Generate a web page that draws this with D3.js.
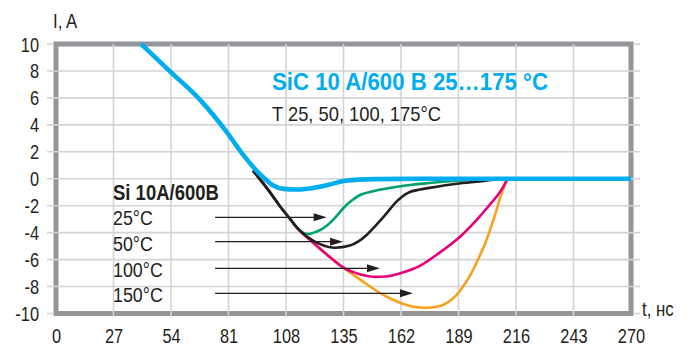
<!DOCTYPE html>
<html><head><meta charset="utf-8">
<script src="https://cdn.jsdelivr.net/npm/d3@7"></script>
<style>
html,body{margin:0;padding:0;background:#fff;}
svg{display:block;}
text{font-family:"Liberation Sans",Arial,sans-serif;fill:#231f20;}
</style></head>
<body><svg id="c" width="697" height="346"></svg>
<script>
// ---- data ----
const xTicks = [0,27,54,81,108,135,162,189,216,243,270];
const yTicks = [10,8,6,4,2,0,-2,-4,-6,-8,-10];

const sicT = [40,54,68,80,88,93,98,102,107,113,120,128,136,150,170,270];
const sicI = [10,7.9,5.8,3.5,1.75,0.8,0,-0.5,-0.75,-0.8,-0.7,-0.44,-0.15,-0.03,0,0];

const si25T = [92.5,100,105,110,113,116,118.5,122,127,131,135,139,143,149,161,175,188,200,210,270];
const si25I = [0.6,-0.9,-2.0,-3.0,-3.6,-4.0,-4.1,-3.95,-3.5,-2.9,-2.17,-1.6,-1.19,-0.92,-0.57,-0.32,-0.15,-0.05,0,0];

const si50T = [92.5,100,105,110,113,118,124,131,138,142,146,150,154,160,165,171,176,188,199,211,270];
const si50I = [0.6,-0.9,-2.0,-3.0,-3.6,-4.3,-4.85,-5.12,-4.96,-4.65,-4.15,-3.5,-2.8,-1.68,-1.06,-0.8,-0.66,-0.37,-0.2,0,0];

const si100T = [92.5,100,105,110,114,119,127,135,143,150,155,162,171,180,190,199,203,207,210,212,270];
const si100I = [0.6,-0.9,-2.0,-3.0,-3.8,-4.5,-5.6,-6.6,-7.1,-7.28,-7.25,-7.0,-6.45,-5.5,-4.27,-2.8,-2.05,-1.3,-0.6,0,0];

const si150T = [92.5,100,105,110,114,119,127,134,143,152,161.5,168,174,178,182,186,190,194,198,202,206,209,212,270];
const si150I = [0.6,-0.9,-2.0,-3.0,-3.8,-4.5,-5.6,-6.5,-7.5,-8.47,-9.2,-9.5,-9.58,-9.52,-9.35,-8.95,-8.25,-7.3,-6.05,-4.6,-2.75,-1.2,0,0];

const legendLabels = ["25°C","50°C","100°C","150°C"];
const arrowStartT = [74.7,74.7,74.7,74.7];
const arrowEndT = [127.1,134.8,152.1,167.6];
const arrowI = [-2.86,-4.67,-6.65,-8.5];

const titleText = "SiC 10 A/600 B 25…175 °C";
const subtitleText = "T 25, 50, 100, 175°C";
const legendTitle = "Si 10A/600B";
const yLabel = "I, A";
const xLabel = "t, нс";

// ---- drawing ----
const SX = 0.84;
const svg = d3.select("#c");
const x = d3.scaleLinear().domain([0,270]).range([56,631]);
const y = d3.scaleLinear().domain([-10,10]).range([313.5,44]);

function txt(px,py,str,size,bold,sx){
  return svg.append("text").attr("transform",`translate(${px},${py}) scale(${sx||SX},1)`)
    .style("font-size",size+"px").style("font-weight",bold?"bold":"normal").text(str);
}

// frame
svg.append("rect").attr("x",x(0)).attr("y",y(10)).attr("width",x(270)-x(0)).attr("height",y(-10)-y(10))
  .attr("fill","none").attr("stroke","#939598").attr("stroke-width",5);

// gridlines
const gc="#d4d4d4";
svg.append("g").selectAll("line").data(yTicks.filter(d=>d!==10&&d!==-10)).join("line")
  .attr("x1",47).attr("x2",640).attr("y1",d=>y(d)).attr("y2",d=>y(d))
  .attr("stroke",gc).attr("stroke-width",1.6);
svg.append("g").selectAll("line").data(xTicks.filter(d=>d!==0&&d!==270)).join("line")
  .attr("x1",d=>x(d)).attr("x2",d=>x(d)).attr("y1",y(10)).attr("y2",317)
  .attr("stroke",gc).attr("stroke-width",1.6);
svg.append("g").selectAll("line").data([10,-10]).join("line")
  .attr("x1",47).attr("x2",54).attr("y1",d=>y(d)).attr("y2",d=>y(d))
  .attr("stroke",gc).attr("stroke-width",1.6);
svg.append("g").selectAll("line").data([10,-10]).join("line")
  .attr("x1",633).attr("x2",640).attr("y1",d=>y(d)).attr("y2",d=>y(d))
  .attr("stroke",gc).attr("stroke-width",1.6);

// axes (labels only)
const fmt = d=>String(d);
const ax = svg.append("g").attr("transform",`translate(0,${y(-10)})`)
  .call(d3.axisBottom(x).tickValues(xTicks).tickSize(0).tickPadding(0).tickFormat(fmt));
ax.select(".domain").remove();
ax.selectAll("text").attr("y",0).attr("dy",0).attr("transform",`translate(0,29) scale(${SX},1)`)
  .style("font-size","19.5px").attr("fill","#231f20").style("font-family",'"Liberation Sans",Arial,sans-serif');
const ay = svg.append("g").attr("transform",`translate(39,0)`)
  .call(d3.axisLeft(y).tickValues(yTicks).tickSize(0).tickPadding(0).tickFormat(fmt));
ay.select(".domain").remove();
ay.selectAll("text").attr("x",0).attr("dy","0.36em").attr("transform",`scale(${SX},1)`)
  .style("font-size","19.5px").attr("fill","#231f20").style("font-family",'"Liberation Sans",Arial,sans-serif');

txt(53,28,yLabel,20);
txt(642,316,xLabel,20);

// curves
const line = d3.line().x(d=>x(d[0])).y(d=>y(d[1])).curve(d3.curveMonotoneX);
const zip = (a,b)=>a.map((t,i)=>[t,b[i]]);
function pathFor(s){
  const pts = zip(s.t,s.i);
  if(s.split){
    const k = s.t.indexOf(s.split);
    return line(pts.slice(0,k+1)) + d3.line().x(d=>x(d[0])).y(d=>y(d[1]))(pts.slice(k));
  }
  return line(pts);
}
const series = [
  {t:si150T,i:si150I,c:"#f8a11c",w:2.6,split:212},
  {t:si100T,i:si100I,c:"#e6007e",w:2.6,split:212},
  {t:si25T,i:si25I,c:"#00a26b",w:2.6},
  {t:si50T,i:si50I,c:"#231f20",w:2.6},
  {t:sicT,i:sicI,c:"#00aeef",w:4.6}
];
svg.append("g").selectAll("path").data(series).join("path")
  .attr("d",pathFor).attr("fill","none")
  .attr("stroke",s=>s.c).attr("stroke-width",s=>s.w).attr("stroke-linejoin","round").attr("stroke-linecap","butt");

// arrows
const ag = svg.append("g");
arrowI.forEach((v,k)=>{
  const x0=x(arrowStartT[k]), x1=x(arrowEndT[k]), yy=y(v);
  ag.append("line").attr("x1",x0).attr("x2",x1-10).attr("y1",yy).attr("y2",yy).attr("stroke","#231f20").attr("stroke-width",1.3);
  ag.append("path").attr("d",`M${x1},${yy}L${x1-13},${yy-4}L${x1-13},${yy+4}Z`).attr("fill","#231f20");
});

// texts
svg.append("text").attr("x",272).attr("y",90).style("font-size","24px").style("font-weight","bold")
  .style("fill","#00aeef").attr("textLength",276).attr("lengthAdjust","spacingAndGlyphs").text(titleText);
svg.append("text").attr("x",272).attr("y",121).style("font-size","21px")
  .attr("textLength",169).attr("lengthAdjust","spacingAndGlyphs").text(subtitleText);
txt(113,200,legendTitle,21.5,true,0.86);
const legY=[225,251,277,302];
legendLabels.forEach((l,k)=>txt(113,legY[k],l,21,false,0.85));
</script></body></html>
